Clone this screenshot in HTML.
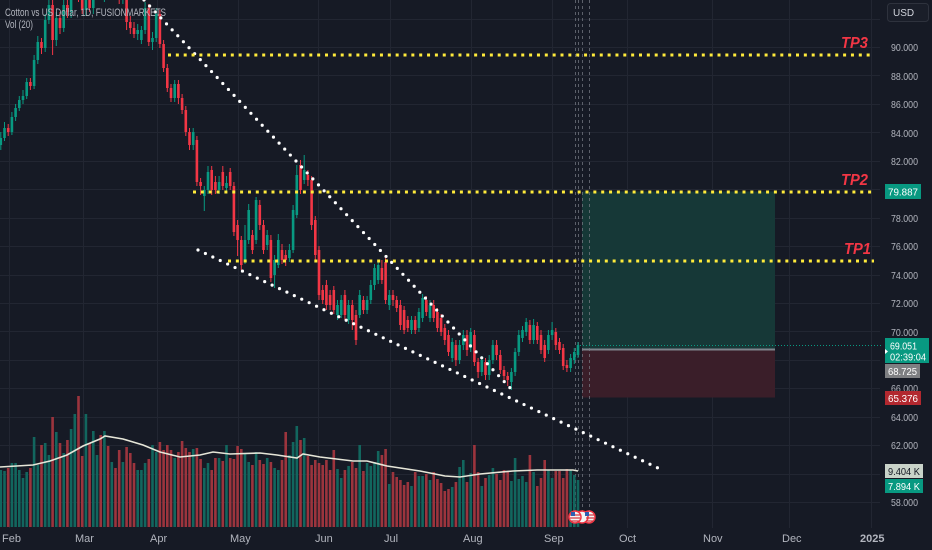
<!DOCTYPE html>
<html>
<head>
<meta charset="utf-8">
<style>
html,body{margin:0;padding:0;background:#161a25;}
body{width:932px;height:550px;overflow:hidden;}
svg{display:block;font-family:"Liberation Sans",sans-serif;}
</style>
</head>
<body>
<svg width="932" height="550" viewBox="0 0 932 550" xmlns="http://www.w3.org/2000/svg">
<rect x="0" y="0" width="932" height="550" fill="#161a25"/>
<!-- grid -->
<g stroke="#222632" stroke-width="1">
<path d="M0 19.5H880M0 47.5H880M0 75.5H880M0 104.5H880M0 132.5H880M0 161.5H880M0 189.5H880M0 218.5H880M0 246.5H880M0 275.5H880M0 303.5H880M0 331.5H880M0 360.5H880M0 388.5H880M0 417.5H880M0 445.5H880M0 474.5H880M0 502.5H880"/>
<path d="M9.5 0V528M83.5 0V528M157.5 0V528M238.5 0V528M318.5 0V528M390.5 0V528M471.5 0V528M552.5 0V528M627.5 0V528M712.5 0V528M789.5 0V528M871.5 0V528"/>
</g>
<!-- position box -->
<rect x="582" y="191.5" width="193" height="158" fill="#163837"/>
<rect x="582" y="349.5" width="193" height="48" fill="#3a1e29"/>
<line x1="582" y1="349.5" x2="775" y2="349.5" stroke="#7f848c" stroke-width="2"/>
<!-- event dashed lines -->
<g stroke="#7a7e88" stroke-width="1" stroke-dasharray="3,3" opacity="0.7">
<line x1="575.5" y1="0" x2="575.5" y2="511"/>
<line x1="578.5" y1="0" x2="578.5" y2="511"/>
<line x1="582.5" y1="0" x2="582.5" y2="511"/>
<line x1="589.5" y1="0" x2="589.5" y2="511"/>
</g>
<!-- volume green -->
<path fill="#12665e" d="M-0.5 470h2.6V527h-2.6zM3.2 471h2.6V527h-2.6zM10.6 463h2.6V527h-2.6zM14.3 463h2.6V527h-2.6zM18.0 470h2.6V527h-2.6zM21.7 478h2.6V527h-2.6zM25.4 472h2.6V527h-2.6zM32.8 437h2.6V527h-2.6zM36.5 465h2.6V527h-2.6zM43.9 443h2.6V527h-2.6zM47.6 455h2.6V527h-2.6zM55.0 432h2.6V527h-2.6zM62.4 453h2.6V527h-2.6zM69.8 429h2.6V527h-2.6zM73.5 414h2.6V527h-2.6zM84.6 414h2.6V527h-2.6zM92.0 431h2.6V527h-2.6zM95.7 455h2.6V527h-2.6zM103.1 431h2.6V527h-2.6zM110.5 462h2.6V527h-2.6zM121.6 462h2.6V527h-2.6zM136.4 470h2.6V527h-2.6zM140.1 470h2.6V527h-2.6zM143.8 463h2.6V527h-2.6zM151.2 445h2.6V527h-2.6zM154.9 452h2.6V527h-2.6zM173.4 458h2.6V527h-2.6zM191.9 449h2.6V527h-2.6zM203.0 468h2.6V527h-2.6zM206.7 463h2.6V527h-2.6zM217.8 458h2.6V527h-2.6zM225.2 445h2.6V527h-2.6zM243.7 453h2.6V527h-2.6zM247.4 462h2.6V527h-2.6zM254.8 452h2.6V527h-2.6zM265.9 458h2.6V527h-2.6zM273.3 468h2.6V527h-2.6zM277.0 470h2.6V527h-2.6zM288.1 455h2.6V527h-2.6zM291.8 442h2.6V527h-2.6zM295.5 426h2.6V527h-2.6zM302.9 438h2.6V527h-2.6zM336.2 469h2.6V527h-2.6zM339.9 478h2.6V527h-2.6zM347.3 466h2.6V527h-2.6zM358.4 445h2.6V527h-2.6zM365.8 463h2.6V527h-2.6zM369.5 466h2.6V527h-2.6zM373.2 462h2.6V527h-2.6zM376.9 451h2.6V527h-2.6zM388.0 484h2.6V527h-2.6zM410.2 486h2.6V527h-2.6zM417.6 476h2.6V527h-2.6zM421.3 476h2.6V527h-2.6zM428.7 480h2.6V527h-2.6zM450.9 487h2.6V527h-2.6zM458.3 467h2.6V527h-2.6zM462.0 460h2.6V527h-2.6zM469.4 473h2.6V527h-2.6zM480.5 486h2.6V527h-2.6zM487.9 475h2.6V527h-2.6zM491.6 468h2.6V527h-2.6zM510.1 481h2.6V527h-2.6zM513.8 458h2.6V527h-2.6zM517.5 479h2.6V527h-2.6zM521.2 476h2.6V527h-2.6zM524.9 482h2.6V527h-2.6zM532.3 472h2.6V527h-2.6zM547.1 470h2.6V527h-2.6zM550.8 478h2.6V527h-2.6zM569.3 470h2.6V527h-2.6zM573.0 475h2.6V527h-2.6zM576.7 480h2.6V527h-2.6z"/>
<!-- volume red -->
<path fill="#9c343d" d="M6.9 468h2.6V527h-2.6zM29.1 468h2.6V527h-2.6zM40.2 445h2.6V527h-2.6zM51.3 417h2.6V527h-2.6zM58.7 443h2.6V527h-2.6zM66.1 440h2.6V527h-2.6zM77.2 396h2.6V527h-2.6zM80.9 456h2.6V527h-2.6zM88.3 443h2.6V527h-2.6zM99.4 435h2.6V527h-2.6zM106.8 446h2.6V527h-2.6zM114.2 468h2.6V527h-2.6zM117.9 450h2.6V527h-2.6zM125.3 447h2.6V527h-2.6zM129.0 453h2.6V527h-2.6zM132.7 463h2.6V527h-2.6zM147.5 459h2.6V527h-2.6zM158.6 442h2.6V527h-2.6zM162.3 450h2.6V527h-2.6zM166.0 445h2.6V527h-2.6zM169.7 450h2.6V527h-2.6zM177.1 452h2.6V527h-2.6zM180.8 441h2.6V527h-2.6zM184.5 448h2.6V527h-2.6zM188.2 452h2.6V527h-2.6zM195.6 448h2.6V527h-2.6zM199.3 459h2.6V527h-2.6zM210.4 470h2.6V527h-2.6zM214.1 458h2.6V527h-2.6zM221.5 461h2.6V527h-2.6zM228.9 458h2.6V527h-2.6zM232.6 459h2.6V527h-2.6zM236.3 446h2.6V527h-2.6zM240.0 449h2.6V527h-2.6zM251.1 465h2.6V527h-2.6zM258.5 460h2.6V527h-2.6zM262.2 464h2.6V527h-2.6zM269.6 462h2.6V527h-2.6zM280.7 460h2.6V527h-2.6zM284.4 432h2.6V527h-2.6zM299.2 440h2.6V527h-2.6zM306.6 456h2.6V527h-2.6zM310.3 465h2.6V527h-2.6zM314.0 460h2.6V527h-2.6zM317.7 463h2.6V527h-2.6zM321.4 465h2.6V527h-2.6zM325.1 460h2.6V527h-2.6zM328.8 470h2.6V527h-2.6zM332.5 450h2.6V527h-2.6zM343.6 470h2.6V527h-2.6zM351.0 462h2.6V527h-2.6zM354.7 468h2.6V527h-2.6zM362.1 471h2.6V527h-2.6zM380.6 455h2.6V527h-2.6zM384.3 449h2.6V527h-2.6zM391.7 472h2.6V527h-2.6zM395.4 477h2.6V527h-2.6zM399.1 480h2.6V527h-2.6zM402.8 485h2.6V527h-2.6zM406.5 482h2.6V527h-2.6zM413.9 472h2.6V527h-2.6zM425.0 474h2.6V527h-2.6zM432.4 472h2.6V527h-2.6zM436.1 479h2.6V527h-2.6zM439.8 483h2.6V527h-2.6zM443.5 491h2.6V527h-2.6zM447.2 489h2.6V527h-2.6zM454.6 482h2.6V527h-2.6zM465.7 482h2.6V527h-2.6zM473.1 445h2.6V527h-2.6zM476.8 472h2.6V527h-2.6zM484.2 478h2.6V527h-2.6zM495.3 474h2.6V527h-2.6zM499.0 480h2.6V527h-2.6zM502.7 470h2.6V527h-2.6zM506.4 472h2.6V527h-2.6zM528.6 455h2.6V527h-2.6zM536.0 486h2.6V527h-2.6zM539.7 478h2.6V527h-2.6zM543.4 460h2.6V527h-2.6zM554.5 471h2.6V527h-2.6zM558.2 471h2.6V527h-2.6zM561.9 478h2.6V527h-2.6zM565.6 469h2.6V527h-2.6z"/>
<!-- volume MA -->
<polyline fill="none" stroke="#e6e6d8" stroke-width="1.6" points="0,467 33,465 50,461 67,455 83,446 100,439 105,436 123,439 143,445 160,452 180,457 200,455 213,452 230,454 260,453 277,455 297,458 303,454 320,457 353,461 367,461 387,466 420,471 445,476 460,477 480,474 513,471 537,470 573,470 578,471"/>
<!-- green candles -->
<path stroke="#089981" stroke-width="1" fill="none" d="M0.8 132V150M4.5 122V141M11.9 112V135M15.6 104V121M19.3 96V111M23 90V104M26.7 78V99M34.1 55V89M37.8 36V64M45.2 14V52M48.9 0V24M56.3 12V46M63.7 -2V32M71.1 -10V18M74.8 -20V0M85.9 -8V16M93.3 -14V14M97 -18V-2M104.4 -20V2M111.8 -26V-4M122.9 -16V4M137.7 24V40M141.4 26V44M145.1 2V34M152.5 32V50M156.2 8V42M174.7 80V102M193.2 128V150M204.3 186V211M208 166V194M219.1 176V194M226.5 176V192M245 225V264M248.7 204V244M256.1 197V244M267.2 230V250M274.6 255V288M278.3 234V268M289.4 244V262M293.1 205V253M296.8 165V218M304.2 155V184M337.5 300V320M341.2 295V318M348.6 300V324M359.7 290V318M367.1 296V314M370.8 280V304M374.5 264V290M378.2 262V284M389.3 290V310M411.5 316V334M418.9 308V332M422.6 294V322M430 300V322M452.2 338V362M459.6 340V364M463.3 330V350M470.7 328V352M481.8 356V376M489.2 355V380M492.9 340V364M511.4 368V390M515.1 348V376M518.8 330V356M522.5 326V342M526.2 318V336M533.6 319V344M548.4 330V354M552.1 322V340M570.6 354V372M574.3 348V364M578 342V358"/>
<path fill="#089981" d="M-0.5 138h2.6V145h-2.6zM3.2 128h2.6V138h-2.6zM10.6 117h2.6V132h-2.6zM14.3 108h2.6V117h-2.6zM18.0 100h2.6V108h-2.6zM21.7 96h2.6V100h-2.6zM25.4 82h2.6V96h-2.6zM32.8 60h2.6V86h-2.6zM36.5 42h2.6V60h-2.6zM43.9 20h2.6V48h-2.6zM47.6 5h2.6V20h-2.6zM55.0 18h2.6V40h-2.6zM62.4 5h2.6V28h-2.6zM69.8 -5h2.6V12h-2.6zM73.5 -15h2.6V-5h-2.6zM84.6 -2h2.6V10h-2.6zM92.0 -8h2.6V8h-2.6zM95.7 -12h2.6V-8h-2.6zM103.1 -15h2.6V-5h-2.6zM110.5 -20h2.6V-10h-2.6zM121.6 -10h2.6V-2h-2.6zM136.4 30h2.6V34h-2.6zM140.1 30h2.6V40h-2.6zM143.8 8h2.6V30h-2.6zM151.2 38h2.6V42h-2.6zM154.9 14h2.6V38h-2.6zM173.4 84h2.6V98h-2.6zM191.9 132h2.6V145h-2.6zM203.0 190h2.6V196h-2.6zM206.7 172h2.6V190h-2.6zM217.8 182h2.6V190h-2.6zM225.2 183h2.6V188h-2.6zM243.7 240h2.6V260h-2.6zM247.4 210h2.6V240h-2.6zM254.8 200h2.6V240h-2.6zM265.9 235h2.6V245h-2.6zM273.3 260h2.6V275h-2.6zM277.0 240h2.6V265h-2.6zM288.1 250h2.6V258h-2.6zM291.8 210h2.6V250h-2.6zM295.5 175h2.6V215h-2.6zM302.9 170h2.6V180h-2.6zM336.2 305h2.6V315h-2.6zM339.9 300h2.6V315h-2.6zM347.3 305h2.6V320h-2.6zM358.4 295h2.6V315h-2.6zM365.8 300h2.6V310h-2.6zM369.5 285h2.6V300h-2.6zM373.2 268h2.6V285h-2.6zM376.9 265h2.6V280h-2.6zM388.0 295h2.6V305h-2.6zM410.2 320h2.6V330h-2.6zM417.6 312h2.6V328h-2.6zM421.3 298h2.6V318h-2.6zM428.7 305h2.6V318h-2.6zM450.9 342h2.6V358h-2.6zM458.3 345h2.6V360h-2.6zM462.0 335h2.6V345h-2.6zM469.4 332h2.6V348h-2.6zM480.5 360h2.6V372h-2.6zM487.9 360h2.6V375h-2.6zM491.6 345h2.6V360h-2.6zM510.1 372h2.6V382h-2.6zM513.8 352h2.6V372h-2.6zM517.5 335h2.6V352h-2.6zM521.2 330h2.6V338h-2.6zM524.9 322h2.6V332h-2.6zM532.3 325h2.6V340h-2.6zM547.1 335h2.6V350h-2.6zM550.8 330h2.6V335h-2.6zM569.3 358h2.6V368h-2.6zM573.0 352h2.6V360h-2.6zM576.7 345h2.6V355h-2.6z"/>
<!-- red candles -->
<path stroke="#f23645" stroke-width="1" fill="none" d="M8.2 124V136M30.4 78V90M41.5 38V54M52.6 0V55M60 12V34M67.4 0V18M78.5 -20V2M82.2 -10V14M89.6 -6V12M100.7 -18V0M108.1 -20V-4M115.5 -26V-6M119.2 -16V4M126.6 -14V30M130.3 16V34M134 22V38M148.8 4V46M159.9 10V48M163.6 40V72M167.3 64V92M171 84V102M178.4 80V104M182.1 94V114M185.8 106V136M189.5 128V150M196.9 136V186M200.6 178V195M211.7 166V195M215.4 176V194M222.8 166V190M230.2 168V190M233.9 182V236M237.6 220V256M241.3 236V270M252.4 230V254M259.8 200V230M263.5 220V254M270.9 235V282M282 244V264M285.7 250V266M300.5 160V194M307.9 170V186M311.6 176V230M315.3 216V260M319 246V300M322.7 285V304M326.4 280V310M330.1 290V310M333.8 286V314M344.9 290V320M352.3 300V330M356 310V345M363.4 296V314M381.9 260V284M385.6 258V304M393 290V306M396.7 296V312M400.4 300V330M404.1 306V334M407.8 316V332M415.2 316V334M426.3 296V316M433.7 300V322M437.4 308V332M441.1 314V336M444.8 324V345M448.5 330V356M455.9 340V366M467 330V356M474.4 330V366M478.1 358V378M485.5 358V380M496.6 340V360M500.3 350V374M504 366V380M507.7 372V386M529.9 320V344M537.3 322V344M541 330V354M544.7 340V362M555.8 328V350M559.5 338V354M563.2 344V370M566.9 360V372"/>
<path fill="#f23645" d="M6.9 128h2.6V132h-2.6zM29.1 82h2.6V86h-2.6zM40.2 42h2.6V48h-2.6zM51.3 5h2.6V40h-2.6zM58.7 18h2.6V28h-2.6zM66.1 5h2.6V12h-2.6zM77.2 -15h2.6V-5h-2.6zM80.9 -5h2.6V10h-2.6zM88.3 -2h2.6V8h-2.6zM99.4 -12h2.6V-5h-2.6zM106.8 -15h2.6V-10h-2.6zM114.2 -20h2.6V-12h-2.6zM117.9 -12h2.6V-2h-2.6zM125.3 -10h2.6V22h-2.6zM129.0 22h2.6V28h-2.6zM132.7 28h2.6V34h-2.6zM147.5 8h2.6V42h-2.6zM158.6 14h2.6V44h-2.6zM162.3 44h2.6V68h-2.6zM166.0 68h2.6V88h-2.6zM169.7 88h2.6V98h-2.6zM177.1 84h2.6V98h-2.6zM180.8 98h2.6V110h-2.6zM184.5 110h2.6V132h-2.6zM188.2 132h2.6V145h-2.6zM195.6 140h2.6V182h-2.6zM199.3 182h2.6V186h-2.6zM210.4 170h2.6V190h-2.6zM214.1 182h2.6V190h-2.6zM221.5 172h2.6V186h-2.6zM228.9 172h2.6V186h-2.6zM232.6 186h2.6V232h-2.6zM236.3 225h2.6V240h-2.6zM240.0 240h2.6V265h-2.6zM251.1 235h2.6V250h-2.6zM258.5 205h2.6V225h-2.6zM262.2 225h2.6V250h-2.6zM269.6 240h2.6V278h-2.6zM280.7 250h2.6V260h-2.6zM284.4 255h2.6V260h-2.6zM299.2 165h2.6V190h-2.6zM306.6 175h2.6V180h-2.6zM310.3 180h2.6V225h-2.6zM314.0 220h2.6V255h-2.6zM317.7 250h2.6V295h-2.6zM321.4 290h2.6V300h-2.6zM325.1 285h2.6V305h-2.6zM328.8 295h2.6V305h-2.6zM332.5 290h2.6V310h-2.6zM343.6 295h2.6V315h-2.6zM351.0 305h2.6V320h-2.6zM354.7 315h2.6V340h-2.6zM362.1 300h2.6V310h-2.6zM380.6 268h2.6V280h-2.6zM384.3 262h2.6V300h-2.6zM391.7 295h2.6V300h-2.6zM395.4 300h2.6V308h-2.6zM399.1 305h2.6V325h-2.6zM402.8 310h2.6V330h-2.6zM406.5 320h2.6V328h-2.6zM413.9 320h2.6V330h-2.6zM425.0 300h2.6V312h-2.6zM432.4 305h2.6V318h-2.6zM436.1 312h2.6V328h-2.6zM439.8 318h2.6V332h-2.6zM443.5 328h2.6V340h-2.6zM447.2 335h2.6V352h-2.6zM454.6 345h2.6V360h-2.6zM465.7 335h2.6V350h-2.6zM473.1 335h2.6V362h-2.6zM476.8 362h2.6V372h-2.6zM484.2 362h2.6V375h-2.6zM495.3 345h2.6V355h-2.6zM499.0 355h2.6V370h-2.6zM502.7 370h2.6V376h-2.6zM506.4 376h2.6V380h-2.6zM528.6 325h2.6V340h-2.6zM536.0 326h2.6V340h-2.6zM539.7 335h2.6V350h-2.6zM543.4 345h2.6V358h-2.6zM554.5 332h2.6V345h-2.6zM558.2 342h2.6V350h-2.6zM561.9 348h2.6V366h-2.6zM565.6 365h2.6V368h-2.6z"/>
<!-- current price line -->
<line x1="580" y1="345.5" x2="882" y2="345.5" stroke="#089981" stroke-width="1" stroke-dasharray="1,2"/>
<!-- white trendlines -->
<line x1="144" y1="0" x2="514" y2="392" stroke="#ffffff" stroke-width="3.2" stroke-linecap="round" stroke-dasharray="0,8.2"/>
<line x1="198" y1="250" x2="660" y2="469" stroke="#ffffff" stroke-width="3.2" stroke-linecap="round" stroke-dasharray="0,8.2"/>
<!-- yellow TP lines -->
<g stroke="#ffeb3b" stroke-width="3" stroke-dasharray="3,4.85">
<line x1="168" y1="55" x2="874" y2="55"/>
<line x1="193" y1="192" x2="874" y2="192"/>
<line x1="228" y1="261" x2="874" y2="261"/>
</g>
<g fill="#f23645" font-weight="bold" font-style="italic" font-size="16">
<text x="841" y="48" textLength="27" lengthAdjust="spacingAndGlyphs">TP3</text>
<text x="841" y="185" textLength="27" lengthAdjust="spacingAndGlyphs">TP2</text>
<text x="844" y="254" textLength="27" lengthAdjust="spacingAndGlyphs">TP1</text>
</g>
<!-- event flags -->
<g>
<circle cx="589" cy="517" r="6" fill="#f3f3f3" stroke="#f23645" stroke-width="1.5"/>
<circle cx="582" cy="517" r="6" fill="#f3f3f3" stroke="#f23645" stroke-width="1.5"/>
<circle cx="575" cy="517" r="6" fill="#f3f3f3" stroke="#f23645" stroke-width="1.5"/>
<g stroke="#d0323c" stroke-width="1.2">
<line x1="570" y1="515" x2="580" y2="515"/><line x1="570" y1="518" x2="580" y2="518"/><line x1="571" y1="521" x2="579" y2="521"/>
<line x1="586" y1="515" x2="594" y2="515"/><line x1="586" y1="518" x2="594" y2="518"/><line x1="586" y1="521" x2="593" y2="521"/>
</g>
<rect x="571" y="512" width="4" height="4" fill="#2a5db0"/>
<rect x="585" y="512" width="4" height="4" fill="#2a5db0"/>
</g>
<!-- header -->
<text x="5" y="16" font-size="11" fill="#b2b5be" textLength="161" lengthAdjust="spacingAndGlyphs">Cotton vs US Dollar, 1D, FUSIONMARKETS</text>
<text x="5" y="28" font-size="11" fill="#b2b5be" textLength="28" lengthAdjust="spacingAndGlyphs">Vol (20)</text>
<!-- USD button -->
<rect x="887.5" y="3.5" width="41" height="18" rx="3" fill="#1a1e29" stroke="#2e323d"/>
<text x="893" y="16" font-size="10" fill="#d1d4dc">USD</text>
<!-- price axis -->
<g font-size="10" fill="#b2b5be">
<text x="891" y="51" textLength="27" lengthAdjust="spacingAndGlyphs">90.000</text>
<text x="891" y="80" textLength="27" lengthAdjust="spacingAndGlyphs">88.000</text>
<text x="891" y="108" textLength="27" lengthAdjust="spacingAndGlyphs">86.000</text>
<text x="891" y="137" textLength="27" lengthAdjust="spacingAndGlyphs">84.000</text>
<text x="891" y="165" textLength="27" lengthAdjust="spacingAndGlyphs">82.000</text>
<text x="891" y="222" textLength="27" lengthAdjust="spacingAndGlyphs">78.000</text>
<text x="891" y="250" textLength="27" lengthAdjust="spacingAndGlyphs">76.000</text>
<text x="891" y="279" textLength="27" lengthAdjust="spacingAndGlyphs">74.000</text>
<text x="891" y="307" textLength="27" lengthAdjust="spacingAndGlyphs">72.000</text>
<text x="891" y="336" textLength="27" lengthAdjust="spacingAndGlyphs">70.000</text>
<text x="891" y="392" textLength="27" lengthAdjust="spacingAndGlyphs">66.000</text>
<text x="891" y="421" textLength="27" lengthAdjust="spacingAndGlyphs">64.000</text>
<text x="891" y="449" textLength="27" lengthAdjust="spacingAndGlyphs">62.000</text>
<text x="891" y="506" textLength="27" lengthAdjust="spacingAndGlyphs">58.000</text>
</g>
<!-- badges -->
<rect x="885" y="184" width="36" height="15" fill="#089981"/>
<text x="888" y="195.5" font-size="10" fill="#ffffff" textLength="30" lengthAdjust="spacingAndGlyphs">79.887</text>
<rect x="885" y="338" width="44" height="25" fill="#089981"/>
<text x="890" y="349.5" font-size="10" fill="#ffffff" textLength="27" lengthAdjust="spacingAndGlyphs">69.051</text>
<text x="890" y="360.5" font-size="10" fill="#ffffff" textLength="36" lengthAdjust="spacingAndGlyphs">02:39:04</text>
<polygon points="885,349 888,351.5 885,354" fill="#ffffff"/>
<rect x="885" y="364" width="35" height="14" fill="#7e7f82"/>
<text x="888" y="375" font-size="10" fill="#ffffff" textLength="29" lengthAdjust="spacingAndGlyphs">68.725</text>
<rect x="885" y="391" width="36" height="14" fill="#b2282f"/>
<text x="888" y="402" font-size="10" fill="#ffffff" textLength="30" lengthAdjust="spacingAndGlyphs">65.376</text>
<rect x="885" y="464" width="38" height="14" fill="#c9d3c9"/>
<text x="888" y="475" font-size="10" fill="#131722" textLength="32" lengthAdjust="spacingAndGlyphs">9.404 K</text>
<rect x="885" y="479" width="38" height="14" fill="#089981"/>
<text x="888" y="490" font-size="10" fill="#ffffff" textLength="32" lengthAdjust="spacingAndGlyphs">7.894 K</text>
<!-- time axis -->
<g font-size="11" fill="#b2b5be">
<text x="2" y="542">Feb</text>
<text x="75" y="542">Mar</text>
<text x="150" y="542">Apr</text>
<text x="230" y="542">May</text>
<text x="315" y="542">Jun</text>
<text x="384" y="542">Jul</text>
<text x="463" y="542">Aug</text>
<text x="544" y="542">Sep</text>
<text x="619" y="542">Oct</text>
<text x="703" y="542">Nov</text>
<text x="782" y="542">Dec</text>
<text x="860" y="542" font-weight="bold">2025</text>
</g>
</svg>
</body>
</html>
